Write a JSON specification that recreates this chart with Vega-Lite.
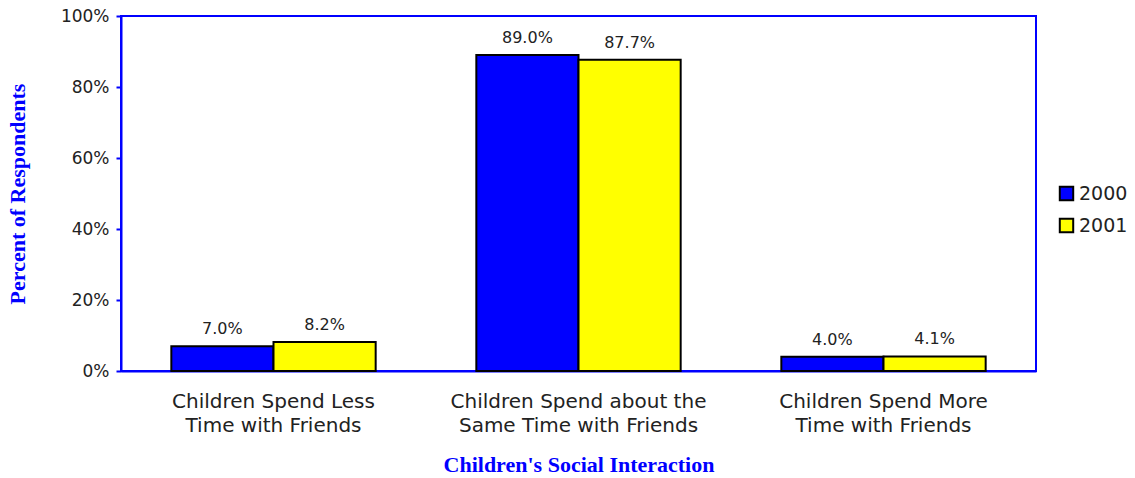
{
  "$schema": "https://vega.github.io/schema/vega-lite/v6.json",
  "autosize": {"type": "none"},
  "width": 915,
  "height": 355,
  "padding": {"left": 121, "top": 16, "right": 99, "bottom": 107},
  "background": "white",
  "config": {
    "view": {"stroke": "#0000FF", "strokeWidth": 2},
    "font": "DejaVu Sans"
  },
  "data": {
    "values": [
      {"category": "Children Spend Less Time with Friends", "year": "2000", "value": 0.070, "label": "7.0%"},
      {"category": "Children Spend Less Time with Friends", "year": "2001", "value": 0.082, "label": "8.2%"},
      {"category": "Children Spend about the Same Time with Friends", "year": "2000", "value": 0.890, "label": "89.0%"},
      {"category": "Children Spend about the Same Time with Friends", "year": "2001", "value": 0.877, "label": "87.7%"},
      {"category": "Children Spend More Time with Friends", "year": "2000", "value": 0.040, "label": "4.0%"},
      {"category": "Children Spend More Time with Friends", "year": "2001", "value": 0.041, "label": "4.1%"}
    ]
  },
  "encoding": {
    "x": {
      "field": "category",
      "type": "nominal",
      "sort": null,
      "scale": {"paddingInner": 0.33, "paddingOuter": 0.165},
      "axis": {
        "title": "Children's Social Interaction",
        "titleFont": "Liberation Serif",
        "titleFontWeight": "bold",
        "titleFontSize": 22,
        "titleColor": "#0000FF",
        "titlePadding": 19,
        "labelAngle": 0,
        "labelFontSize": 20,
        "labelLimit": 500,
        "labelColor": "#222222",
        "labelPadding": 20,
        "labelExpr": "datum.value == 'Children Spend Less Time with Friends' ? ['Children Spend Less','Time with Friends'] : datum.value == 'Children Spend about the Same Time with Friends' ? ['Children Spend about the','Same Time with Friends'] : ['Children Spend More','Time with Friends']",
        "labelLineHeight": 24,
        "ticks": false,
        "domainColor": "#0000FF",
        "domainWidth": 2
      }
    },
    "xOffset": {"field": "year", "type": "nominal", "scale": {"paddingInner": 0, "paddingOuter": 0}}
  },
  "layer": [
    {
      "mark": {"type": "bar", "stroke": "black", "strokeWidth": 2},
      "encoding": {
        "y": {
          "field": "value",
          "type": "quantitative",
          "scale": {"domain": [0, 1]},
          "axis": {
            "title": "Percent of Respondents",
            "titleFont": "Liberation Serif",
            "titleFontWeight": "bold",
            "titleFontSize": 22,
            "titleColor": "#0000FF",
            "titlePadding": 31,
            "format": ".0%",
            "values": [0, 0.2, 0.4, 0.6, 0.8, 1.0],
            "labelFontSize": 17,
            "labelColor": "#222222",
            "labelPadding": 7,
            "grid": false,
            "tickColor": "#0000FF",
            "tickWidth": 2,
            "tickSize": 5,
            "domainColor": "#0000FF",
            "domainWidth": 2
          }
        },
        "color": {
          "field": "year",
          "type": "nominal",
          "scale": {"domain": ["2000", "2001"], "range": ["#0000FF", "#FFFF00"]},
          "legend": {
            "title": null,
            "orient": "none",
            "legendX": 936,
            "legendY": 168,
            "symbolType": "square",
            "symbolSize": 180,
            "symbolStrokeColor": "black",
            "symbolStrokeWidth": 2,
            "labelFontSize": 19,
            "labelColor": "#222222",
            "rowPadding": 9,
            "labelOffset": 3
          }
        }
      }
    },
    {
      "mark": {"type": "text", "baseline": "alphabetic", "dy": -12, "fontSize": 16, "color": "#222222"},
      "encoding": {
        "y": {"field": "value", "type": "quantitative"},
        "text": {"field": "label"}
      }
    }
  ]
}
